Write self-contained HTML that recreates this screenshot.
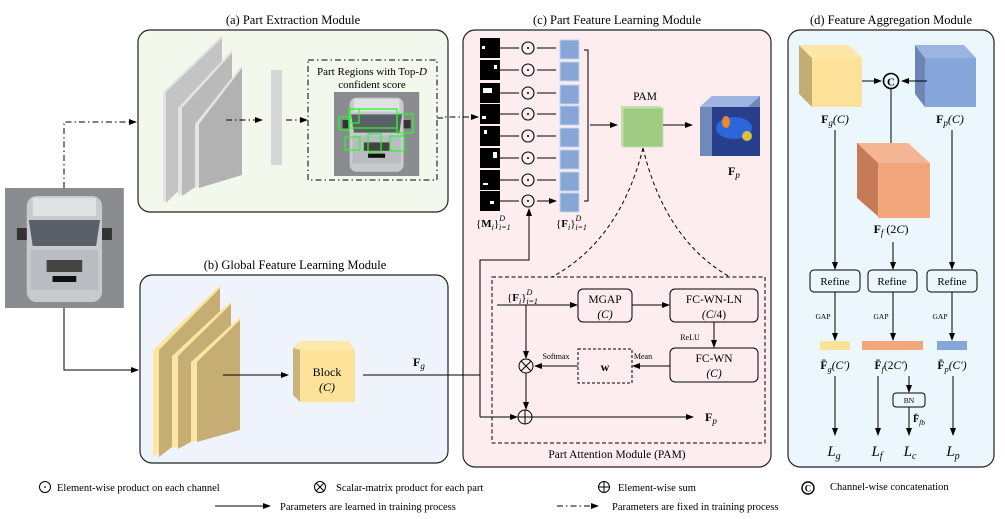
<!DOCTYPE html>
<html><head><meta charset="utf-8"><style>
body{margin:0;background:#fff}
svg{display:block;font-family:"Liberation Serif",serif}
</style></head><body>
<svg width="1005" height="519" viewBox="0 0 1005 519" xmlns="http://www.w3.org/2000/svg">
<defs>
<marker id="ar" markerWidth="8" markerHeight="8" refX="7" refY="4" orient="auto" markerUnits="userSpaceOnUse"><path d="M0,1 L8,4 L0,7z" fill="#000"/></marker>
<g id="car">
<rect x="0" y="0" width="120" height="120" fill="#8a8c90"/>
<rect x="22" y="8" width="76" height="106" rx="10" fill="#c8cacd"/>
<rect x="28" y="10" width="64" height="18" fill="#dfe1e3"/>
<path d="M24,32 L96,32 L92,58 L28,58z" fill="#5a6068"/>
<rect x="26" y="62" width="68" height="40" fill="#b9bcc0"/>
<rect x="42" y="72" width="36" height="12" fill="#444"/>
<rect x="48" y="88" width="24" height="6" fill="#111"/>
<rect x="12" y="40" width="10" height="12" fill="#333"/><rect x="98" y="40" width="10" height="12" fill="#333"/>
</g>
</defs>

<!-- boxes -->
<rect x="138" y="30" width="310" height="182" rx="12" fill="#f2f8ec" stroke="#222" stroke-width="1.2"/>
<rect x="140" y="275" width="308" height="188" rx="12" fill="#eff4fc" stroke="#222" stroke-width="1.2"/>
<rect x="463" y="30" width="308" height="437" rx="12" fill="#fdedef" stroke="#222" stroke-width="1.2"/>
<rect x="788" y="30" width="206" height="437" rx="12" fill="#ebf6fd" stroke="#222" stroke-width="1.2"/>
<g font-size="12.5" text-anchor="middle">
<text x="293" y="24">(a) Part Extraction Module</text>
<text x="295" y="269">(b) Global Feature Learning Module</text>
<text x="617" y="24">(c) Part Feature Learning Module</text>
<text x="891" y="24">(d) Feature Aggregation Module</text>
</g>

<!-- car input -->
<use href="#car" transform="translate(5,188) scale(0.99,1)"/>
<path d="M64,188 V122 H136" fill="none" stroke="#000" stroke-dasharray="6,3,1.5,3" marker-end="url(#ar)"/>
<path d="M64,308 V370 H138" fill="none" stroke="#000" marker-end="url(#ar)"/>

<!-- (a) slabs -->
<g>
<path d="M163,92 L222,35 L222,148 L163,203z" fill="#e4e4e4"/><path d="M166,92 L222,38 L222,148 L166,203z" fill="#c4c4c4"/>
<path d="M178,108 L232,50 L232,162 L178,196z" fill="#e4e4e4"/><path d="M182,108 L232,53 L232,162 L182,196z" fill="#bababa"/>
<path d="M195,124 L242,65 L242,175 L195,188z" fill="#e4e4e4"/><path d="M199,124 L242,68 L242,175 L199,188z" fill="#b2b2b2"/>
</g>
<line x1="226" y1="120" x2="262" y2="120" stroke="#000" stroke-dasharray="6,3,1.5,3" marker-end="url(#ar)"/>
<rect x="271" y="70" width="11" height="95" fill="#d6d6d6"/>
<line x1="286" y1="120" x2="307" y2="120" stroke="#000" stroke-dasharray="6,3,1.5,3" marker-end="url(#ar)"/>
<rect x="308" y="60" width="129" height="120" fill="none" stroke="#000" stroke-dasharray="6,3,1.5,3"/>
<text x="372" y="75" font-size="11" text-anchor="middle">Part Regions with Top-<tspan font-style="italic">D</tspan></text>
<text x="372" y="88" font-size="11" text-anchor="middle">confident score</text>
<use href="#car" transform="translate(334,92) scale(0.71,0.7)"/>
<g fill="none" stroke="#2f2" stroke-width="1.2">
<rect x="349" y="109" width="48" height="19"/><rect x="339" y="117" width="10" height="13"/><rect x="350" y="109" width="9" height="14"/>
<rect x="397" y="114" width="16" height="19"/><rect x="345" y="137" width="15" height="13"/><rect x="368" y="134" width="13" height="18"/><rect x="390" y="136" width="14" height="15"/>
</g>
<path d="M437,118 H444 V117 H478" fill="none" stroke="#000" stroke-dasharray="6,3,1.5,3" marker-end="url(#ar)"/>

<!-- (b) slabs -->
<path d="M153,350 L220,285 L220,410 L153,457z" fill="#fde6a4"/><path d="M159,350 L220,288 L220,410 L159,457z" fill="#c6ad73"/>
<path d="M172,356 L231,301 L231,420 L172,449z" fill="#fde6a4"/><path d="M178,356 L231,304 L231,420 L178,449z" fill="#c6ad73"/>
<path d="M191,362 L240,317 L240,430 L191,442z" fill="#fde6a4"/><path d="M197,362 L240,320 L240,430 L197,442z" fill="#c6ad73"/>
<line x1="223" y1="375" x2="288" y2="375" stroke="#000" marker-end="url(#ar)"/>
<path d="M293,348 L301,341 L348,341 L355,350 L355,402 L300,402 L293,395z" fill="#c9b37a"/>
<path d="M293,348 L301,341 L348,341 L355,350 L300,350z" fill="#fde8aa"/>
<rect x="300" y="350" width="55" height="52" fill="#fde39a"/>
<text x="327" y="376" font-size="12" text-anchor="middle">Block</text>
<text x="327" y="391" font-size="12" text-anchor="middle" font-style="italic">(C)</text>
<text x="413" y="366" font-size="12" font-weight="bold">F<tspan font-size="9" font-style="italic" font-weight="normal" dy="3">g</tspan></text>
<line x1="363" y1="375" x2="480" y2="375" stroke="#000"/>

<!-- (c) masks -->
<g id="rows">
<g fill="#000"><rect x="480" y="38" width="20" height="20"/><rect x="480" y="60" width="20" height="20"/><rect x="480" y="83" width="20" height="20"/><rect x="480" y="104" width="20" height="20"/><rect x="480" y="126" width="20" height="20"/><rect x="480" y="148" width="20" height="20"/><rect x="480" y="170" width="20" height="20"/><rect x="480" y="191" width="20" height="20"/></g>
<g fill="#fff"><rect x="482" y="46" width="3" height="3"/><rect x="494" y="65" width="3" height="4"/><rect x="483" y="88" width="9" height="5"/><rect x="482" y="116" width="4" height="3"/><rect x="484" y="130" width="3" height="4"/><rect x="493" y="152" width="4" height="6"/><rect x="483" y="183" width="5" height="2"/><rect x="490" y="201" width="4" height="3"/></g>
</g>
<g stroke="#000" fill="none">
<path d="M500,48H519M537,48H556M500,70H519M537,70H556M500,93H519M537,93H556M500,114H519M537,114H556M500,136H519M537,136H556M500,158H519M537,158H556M500,180H519M537,180H556M500,201H519M537,201H556" marker-end="url(#ar)"/>
</g>
<g stroke="#000" fill="none" stroke-width="1.1">
<circle cx="528" cy="48" r="6"/><circle cx="528" cy="70" r="6"/><circle cx="528" cy="93" r="6"/><circle cx="528" cy="114" r="6"/><circle cx="528" cy="136" r="6"/><circle cx="528" cy="158" r="6"/><circle cx="528" cy="180" r="6"/><circle cx="528" cy="201" r="6"/>
</g>
<g fill="#000"><circle cx="528" cy="48" r="1"/><circle cx="528" cy="70" r="1"/><circle cx="528" cy="93" r="1"/><circle cx="528" cy="114" r="1"/><circle cx="528" cy="136" r="1"/><circle cx="528" cy="158" r="1"/><circle cx="528" cy="180" r="1"/><circle cx="528" cy="201" r="1"/></g>
<g fill="#86a6d8" stroke="#c2d4ee" stroke-width="1">
<rect x="560" y="40" width="19" height="19"/><rect x="560" y="62" width="19" height="19"/><rect x="560" y="85" width="19" height="19"/><rect x="560" y="106" width="19" height="19"/><rect x="560" y="128" width="19" height="19"/><rect x="560" y="150" width="19" height="19"/><rect x="560" y="172" width="19" height="19"/><rect x="560" y="193" width="19" height="19"/>
</g>
<path d="M584,50 H588 V201 H584" fill="none" stroke="#000"/>
<line x1="590" y1="125" x2="617" y2="125" stroke="#000" marker-end="url(#ar)"/>
<text x="645" y="100" font-size="11.5" text-anchor="middle">PAM</text>
<rect x="621" y="106" width="40" height="40" fill="#bfe0a8"/>
<rect x="623" y="108" width="40" height="39" fill="#9fcb82" stroke="#c6e2b3"/>
<line x1="663" y1="125" x2="692" y2="125" stroke="#000" marker-end="url(#ar)"/>
<path d="M700,107 L712,96 L760,96 L760,145 L748,156 L700,156z" fill="#6f89b8"/>
<path d="M700,107 L712,96 L760,96 L748,107z" fill="#9db5e0"/>
<rect x="712" y="107" width="48" height="49" fill="#2a3f8c"/>
<ellipse cx="734" cy="128" rx="18" ry="11" fill="#2d66d8"/>
<ellipse cx="726" cy="122" rx="4" ry="6" fill="#e88830"/><ellipse cx="747" cy="136" rx="5" ry="5" fill="#d8c040"/>
<text x="728" y="175" font-size="12" font-weight="bold">F<tspan font-size="9" font-style="italic" font-weight="normal" dy="3">p</tspan></text>
<text x="476" y="227" font-size="11">{<tspan font-weight="bold">M</tspan><tspan font-style="italic" font-size="8" dy="3">i</tspan><tspan dy="-3">}</tspan><tspan font-style="italic" font-size="8" dy="-6">D</tspan><tspan font-style="italic" font-size="8" dx="-6" dy="9">i=1</tspan></text>
<text x="556" y="227" font-size="11">{<tspan font-weight="bold">F</tspan><tspan font-style="italic" font-size="8" dy="3">i</tspan><tspan dy="-3">}</tspan><tspan font-style="italic" font-size="8" dy="-6">D</tspan><tspan font-style="italic" font-size="8" dx="-6" dy="9">i=1</tspan></text>

<!-- left vertical / feedback -->
<path d="M480,417 V260 H529 V209" fill="none" stroke="#000" marker-end="url(#ar)"/>
<path d="M480,417 H517" fill="none" stroke="#000" marker-end="url(#ar)"/>

<!-- PAM curves -->
<path d="M643,148 Q620,240 552,277" fill="none" stroke="#000" stroke-dasharray="4,3"/>
<path d="M643,148 Q665,240 730,277" fill="none" stroke="#000" stroke-dasharray="4,3"/>
<rect x="492" y="277" width="273" height="166" fill="none" stroke="#000" stroke-dasharray="4,2.5"/>
<text x="617" y="458" font-size="11.5" text-anchor="middle">Part Attention Module (PAM)</text>
<text x="507" y="301" font-size="11">{<tspan font-weight="bold">F</tspan><tspan font-style="italic" font-size="8" dy="3">i</tspan><tspan dy="-3">}</tspan><tspan font-style="italic" font-size="8" dy="-6">D</tspan><tspan font-style="italic" font-size="8" dx="-6" dy="9">i=1</tspan></text>
<line x1="497" y1="305" x2="577" y2="305" stroke="#000" marker-end="url(#ar)"/>
<rect x="578" y="289" width="54" height="33" rx="5" fill="none" stroke="#000"/>
<text x="605" y="303" font-size="11.5" text-anchor="middle">MGAP</text><text x="605" y="318" font-size="11.5" text-anchor="middle" font-style="italic">(C)</text>
<line x1="632" y1="305" x2="669" y2="305" stroke="#000" marker-end="url(#ar)"/>
<rect x="670" y="289" width="88" height="33" rx="5" fill="none" stroke="#000"/>
<text x="714" y="303" font-size="11.5" text-anchor="middle">FC-WN-LN</text><text x="714" y="318" font-size="11.5" text-anchor="middle"><tspan font-style="italic">(C</tspan>/4)</text>
<line x1="714" y1="322" x2="714" y2="347" stroke="#000" marker-end="url(#ar)"/>
<text x="690" y="340" font-size="8" text-anchor="middle">ReLU</text>
<rect x="670" y="348" width="88" height="34" rx="5" fill="none" stroke="#000"/>
<text x="714" y="362" font-size="11.5" text-anchor="middle">FC-WN</text><text x="714" y="377" font-size="11.5" text-anchor="middle" font-style="italic">(C)</text>
<line x1="670" y1="366" x2="633" y2="366" stroke="#000" marker-end="url(#ar)"/>
<text x="643" y="359" font-size="8" text-anchor="middle">Mean</text>
<rect x="578" y="349" width="54" height="34" fill="none" stroke="#000" stroke-dasharray="3,2"/>
<text x="605" y="371" font-size="12" text-anchor="middle" font-weight="bold">w</text>
<line x1="578" y1="366" x2="535" y2="366" stroke="#000" marker-end="url(#ar)"/>
<text x="556" y="359" font-size="8" text-anchor="middle">Softmax</text>
<line x1="526" y1="305" x2="526" y2="358" stroke="#000" marker-end="url(#ar)"/>
<circle cx="526" cy="366" r="7" fill="none" stroke="#000"/><path d="M521,361 L531,371 M531,361 L521,371" stroke="#000"/>
<line x1="526" y1="373" x2="526" y2="409" stroke="#000" marker-end="url(#ar)"/>
<circle cx="525" cy="417" r="7" fill="none" stroke="#000"/><path d="M518,417 H532 M525,410 V424" stroke="#000"/>
<line x1="532" y1="417" x2="693" y2="417" stroke="#000" marker-end="url(#ar)"/>
<text x="705" y="421" font-size="12" font-weight="bold">F<tspan font-size="9" font-style="italic" font-weight="normal" dy="3">p</tspan></text>

<!-- (d) -->
<path d="M799,45 L812,58 L812,107 L799,94z" fill="#c4ac72"/>
<path d="M799,45 L849,45 L862,58 L812,58z" fill="#fde7a8"/>
<rect x="812" y="58" width="50" height="49" fill="#fde39a"/>
<path d="M915,45 L925,58 L925,107 L915,94z" fill="#6c85b4"/>
<path d="M915,45 L964,45 L976,58 L925,58z" fill="#9cb4e0"/>
<rect x="925" y="58" width="51" height="49" fill="#86a5d8"/>
<line x1="862" y1="81" x2="881" y2="81" stroke="#000" marker-end="url(#ar)"/>
<line x1="927" y1="81" x2="902" y2="81" stroke="#000" marker-end="url(#ar)"/>
<circle cx="891" cy="81" r="7.5" fill="none" stroke="#000" stroke-width="1.6"/>
<text x="891" y="85.5" font-size="11" font-weight="bold" text-anchor="middle">C</text>
<text x="835" y="123" font-size="12" text-anchor="middle"><tspan font-weight="bold">F</tspan><tspan font-size="9" font-style="italic" dy="3">g</tspan><tspan dy="-3" font-style="italic">(C)</tspan></text>
<text x="950" y="123" font-size="12" text-anchor="middle"><tspan font-weight="bold">F</tspan><tspan font-size="9" font-style="italic" dy="3">p</tspan><tspan dy="-3" font-style="italic">(C)</tspan></text>
<line x1="891" y1="89" x2="891" y2="153" stroke="#000" marker-end="url(#ar)"/>
<path d="M857,143 L877,143 L880,165 L880,218 L857,198z" fill="#c57a58"/>
<path d="M857,143 L908,143 L930,163 L878,163z" fill="#f3b593"/>
<rect x="878" y="163" width="52" height="55" fill="#f1a77b"/>
<text x="891" y="233" font-size="12" text-anchor="middle"><tspan font-weight="bold">F</tspan><tspan font-size="9" font-style="italic" dy="3">f</tspan><tspan dy="-3"> (2</tspan><tspan font-style="italic">C</tspan>)</text>
<line x1="835" y1="130" x2="835" y2="269" stroke="#000" marker-end="url(#ar)"/>
<line x1="893" y1="242" x2="893" y2="269" stroke="#000" marker-end="url(#ar)"/>
<line x1="952" y1="130" x2="952" y2="269" stroke="#000" marker-end="url(#ar)"/>
<g fill="none" stroke="#000"><rect x="810" y="270" width="50" height="22" rx="4"/><rect x="868" y="270" width="49" height="22" rx="4"/><rect x="927" y="270" width="50" height="22" rx="4"/></g>
<g font-size="11" text-anchor="middle"><text x="835" y="285">Refine</text><text x="892" y="285">Refine</text><text x="952" y="285">Refine</text></g>
<g stroke="#000"><line x1="835" y1="292" x2="835" y2="340" marker-end="url(#ar)"/><line x1="893" y1="292" x2="893" y2="340" marker-end="url(#ar)"/><line x1="952" y1="292" x2="952" y2="340" marker-end="url(#ar)"/></g>
<g font-size="7.5" text-anchor="middle"><text x="823" y="319">GAP</text><text x="881" y="319">GAP</text><text x="940" y="319">GAP</text></g>
<rect x="820" y="341" width="30" height="9" fill="#fde39a"/>
<rect x="862" y="341" width="61" height="9" fill="#f1a77b"/>
<rect x="937" y="341" width="30" height="9" fill="#86a5d8"/>
<g font-size="11.5" text-anchor="middle">
<text x="835" y="369"><tspan font-weight="bold">F̄</tspan><tspan font-size="8.5" font-style="italic" dy="3">g</tspan><tspan dy="-3" font-style="italic">(C′)</tspan></text>
<text x="891" y="369"><tspan font-weight="bold">F̄</tspan><tspan font-size="8.5" font-style="italic" dy="3">f</tspan><tspan dy="-3">(2</tspan><tspan font-style="italic">C′</tspan>)</text>
<text x="952" y="369"><tspan font-weight="bold">F̄</tspan><tspan font-size="8.5" font-style="italic" dy="3">p</tspan><tspan dy="-3" font-style="italic">(C′)</tspan></text>
</g>
<g stroke="#000"><line x1="835" y1="376" x2="835" y2="435" marker-end="url(#ar)"/><line x1="878" y1="376" x2="878" y2="435" marker-end="url(#ar)"/><line x1="909" y1="376" x2="909" y2="392" marker-end="url(#ar)"/><line x1="909" y1="407" x2="909" y2="435" marker-end="url(#ar)"/><line x1="953" y1="376" x2="953" y2="435" marker-end="url(#ar)"/></g>
<rect x="893" y="393" width="32" height="14" rx="3" fill="none" stroke="#000"/>
<text x="909" y="403" font-size="7.5" text-anchor="middle">BN</text>
<text x="913" y="422" font-size="10"><tspan font-weight="bold">F̄</tspan><tspan font-size="7.5" font-style="italic" dy="3">fb</tspan></text>
<g font-size="15" font-style="italic" text-anchor="middle">
<text x="834" y="456">L<tspan font-size="10" dy="3">g</tspan></text>
<text x="877" y="456">L<tspan font-size="10" dy="3">f</tspan></text>
<text x="910" y="456">L<tspan font-size="10" dy="3">c</tspan></text>
<text x="953" y="456">L<tspan font-size="10" dy="3">p</tspan></text>
</g>

<!-- legend -->
<g font-size="10.5">
<circle cx="45" cy="487" r="5.5" fill="none" stroke="#000"/><circle cx="45" cy="487" r="0.9"/>
<text x="57" y="491">Element-wise product on each channel</text>
<circle cx="320" cy="487" r="5.5" fill="none" stroke="#000"/><path d="M316,483 L324,491 M324,483 L316,491" stroke="#000"/>
<text x="336" y="491">Scalar-matrix product for each part</text>
<circle cx="604" cy="487" r="5.5" fill="none" stroke="#000"/><path d="M598.5,487 H609.5 M604,481.5 V492.5" stroke="#000"/>
<text x="618" y="491">Element-wise sum</text>
<circle cx="808" cy="488" r="6" fill="none" stroke="#000" stroke-width="1.4"/><text x="808" y="491.5" font-size="9" font-weight="bold" text-anchor="middle">C</text>
<text x="830" y="490">Channel-wise concatenation</text>
<line x1="215" y1="506" x2="270" y2="506" stroke="#000" marker-end="url(#ar)"/>
<text x="280" y="510">Parameters are learned in training process</text>
<line x1="557" y1="506" x2="598" y2="506" stroke="#000" stroke-dasharray="6,3,1.5,3" marker-end="url(#ar)"/>
<text x="612" y="510">Parameters are fixed in training process</text>
</g>
</svg>
</body></html>
